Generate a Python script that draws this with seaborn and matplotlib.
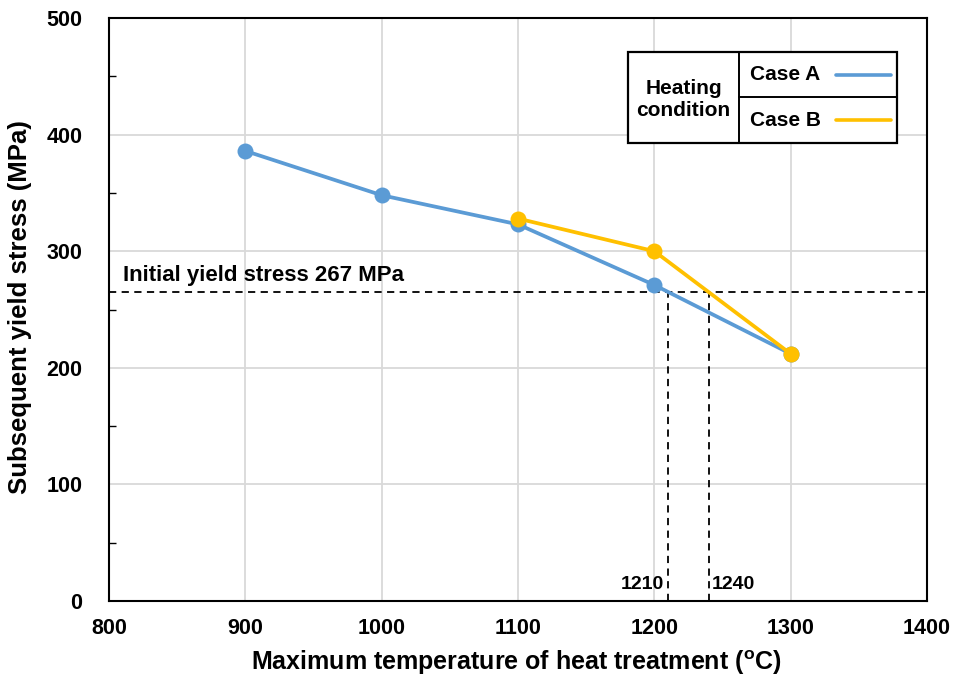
import matplotlib
matplotlib.use("Agg")
import matplotlib.pyplot as plt
import seaborn as sns
import pandas as pd
from matplotlib.patches import Rectangle
from matplotlib.lines import Line2D
from matplotlib.ticker import MultipleLocator

temps_a = [900, 1000, 1100, 1200, 1300]
stress_a = [386, 348, 323, 271, 212]
temps_b = [1100, 1200, 1300]
stress_b = [328, 300, 212]
initial_yield = 265
cross_temps = [1210, 1240]
cross_labels = ["1210", "1240"]
cases = ["Case A", "Case B"]
colors = ["#5B9BD5", "#FFC000"]

df = pd.DataFrame({
    "temp": temps_a + temps_b,
    "stress": stress_a + stress_b,
    "case": [cases[0]] * len(temps_a) + [cases[1]] * len(temps_b),
})

sns.set_style("white")
plt.rcParams["font.family"] = ["Liberation Sans", "DejaVu Sans"]
plt.rcParams["font.weight"] = "bold"
plt.rcParams["text.color"] = "black"
plt.rcParams["axes.labelcolor"] = "black"
plt.rcParams["xtick.color"] = "black"
plt.rcParams["ytick.color"] = "black"
plt.rcParams["mathtext.fontset"] = "custom"
plt.rcParams["mathtext.rm"] = "Liberation Sans:bold"
plt.rcParams["mathtext.default"] = "rm"

fig = plt.figure(figsize=(9.55, 6.81), dpi=100)
ax = fig.add_axes([109 / 955, 80 / 681, (927 - 109) / 955, (601 - 18) / 681])

ax.grid(True, color="#D9D9D9", linewidth=1.3, zorder=0)

sns.lineplot(data=df, x="temp", y="stress", hue="case", palette=colors,
             marker="o", markersize=11.5, markeredgewidth=0, linewidth=2.7,
             ax=ax, legend=False, zorder=3)

ax.plot([800, 1400], [initial_yield, initial_yield], color="black", linestyle=(0, (4, 3)), linewidth=1.3, zorder=2)
for t in cross_temps:
    ax.plot([t, t], [0, initial_yield], color="black", linestyle=(0, (4, 3)), linewidth=1.3, zorder=2)
ax.text(810, initial_yield + 5, "Initial yield stress 267 MPa", fontsize=16, fontweight="bold",
        color="black", ha="left", va="bottom")
ax.text(cross_temps[0] - 3, 7, cross_labels[0], fontsize=14, fontweight="bold", color="black", ha="right", va="bottom")
ax.text(cross_temps[1] + 2, 7, cross_labels[1], fontsize=14, fontweight="bold", color="black", ha="left", va="bottom")

ax.set_xlim(800, 1400)
ax.set_ylim(0, 500)
ax.xaxis.set_major_locator(MultipleLocator(100))
ax.yaxis.set_major_locator(MultipleLocator(100))
ax.yaxis.set_minor_locator(MultipleLocator(50))
ax.tick_params(axis="y", which="minor", direction="in", length=5, width=1, left=True, color="black")
ax.tick_params(axis="x", which="major", length=0, labelsize=15.5, pad=12)
ax.tick_params(axis="y", which="major", length=0, labelsize=15.5, pad=19)
for lab in ax.get_xticklabels() + ax.get_yticklabels():
    lab.set_fontweight("bold")
for s in ax.spines.values():
    s.set_color("black")
    s.set_linewidth(1.5)

ax.set_xlabel(r"Maximum temperature of heat treatment ($^{\rm o}$C)", fontsize=18, fontweight="bold")
ax.set_ylabel("Subsequent yield stress (MPa)", fontsize=18.5, fontweight="bold")
ax.xaxis.set_label_coords(0.498, -0.082)
ax.yaxis.set_label_coords(-0.094, 0.505)

# table-style legend (figure pixel coords)
def fx(px):
    return px / 955
def fy(py):
    return 1 - py / 681

x0, x1, x2 = 628, 739, 897
y0, ym, y1 = 52, 97, 143
fig.patches.append(Rectangle((fx(x0), fy(y1)), fx(x2) - fx(x0), fy(y0) - fy(y1),
                             transform=fig.transFigure, fill=True, facecolor="white",
                             edgecolor="black", linewidth=1.6, zorder=5))
fig.lines.append(Line2D([fx(x1), fx(x1)], [fy(y0), fy(y1)], transform=fig.transFigure, color="black", linewidth=1.4, zorder=6))
fig.lines.append(Line2D([fx(x1), fx(x2)], [fy(ym), fy(ym)], transform=fig.transFigure, color="black", linewidth=1.4, zorder=6))
fig.text(fx((x0 + x1) / 2), fy((y0 + y1) / 2 + 2), "Heating\ncondition", ha="center", va="center",
         fontsize=15, fontweight="bold", color="black", linespacing=1.15, zorder=7)
for i, (name, col) in enumerate(zip(cases, colors)):
    cy = fy((y0 + ym) / 2) if i == 0 else fy((ym + y1) / 2)
    fig.text(fx(750), cy, name, ha="left", va="center", fontsize=15, fontweight="bold", color="black", zorder=7)
    fig.lines.append(Line2D([fx(836), fx(891)], [cy, cy], transform=fig.transFigure, color=col, linewidth=2.6, zorder=7))

fig.savefig("out.png", dpi=100)
